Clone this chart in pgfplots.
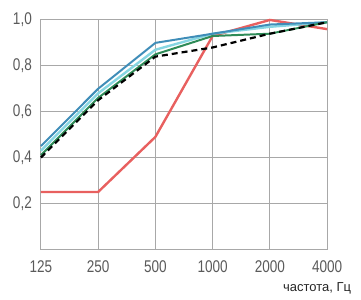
\documentclass[border=0pt]{standalone}
\usepackage{pgfplots}
\pgfplotsset{compat=1.18}
\usepackage{fontspec}
\setmainfont{Liberation Sans}
\newfontfamily\narrowfont{Liberation Sans}[FakeStretch=0.8]
\definecolor{cred}{HTML}{E8605F}
\definecolor{cblue}{HTML}{3F8DB8}
\definecolor{ccyan}{HTML}{86D6E2}
\definecolor{cgreen}{HTML}{2E8B57}
\definecolor{cgrid}{HTML}{A8A8A8}
\definecolor{ctick}{HTML}{5A5A5A}
\begin{document}
\begin{tikzpicture}
\useasboundingbox (-20.5pt,-25pt) rectangle (160.5pt,125pt);
\begin{axis}[
  at={(0,0)}, anchor=south west,
  scale only axis, width=143.5pt, height=115pt,
  xmin=0, xmax=5, ymin=0, ymax=1,
  xtick={0,1,2,3,4,5},
  xticklabels={125,250,500,1000,2000,4000},
  ytick={0.2,0.4,0.6,0.8,1.0},
  yticklabel style={/pgf/number format/use comma, /pgf/number format/fixed, /pgf/number format/fixed zerofill, /pgf/number format/precision=1, xshift=-1pt},
  /pgf/number format/assume math mode=true,
  tick label style={font=\narrowfont\fontsize{8.5}{9}\selectfont, text=ctick},
  xticklabel style={yshift=-2pt},
  grid=major,
  major grid style={cgrid, line width=0.5pt},
  axis line style={cgrid, line width=0.5pt},
  major tick length=0pt,
  clip=false,
]
\addplot[cred, line width=1.2pt] coordinates {(0,0.25) (1,0.25) (2,0.49) (3,0.93) (4,1.0) (5,0.96)};
\addplot[ccyan, line width=1.2pt] coordinates {(0,0.43) (1,0.68) (2,0.87) (3,0.94) (4,0.97) (5,0.99)};
\addplot[cblue, line width=1.0pt] coordinates {(0,0.45) (1,0.70) (2,0.90) (3,0.94) (4,0.98) (5,0.99)};
\addplot[cgreen, line width=1.0pt] coordinates {(0,0.41) (1,0.66) (2,0.85) (3,0.93) (4,0.94) (5,0.99)};
\addplot[black, line width=1.1pt, dash pattern=on 3pt off 2pt] coordinates {(0,0.40) (1,0.65) (2,0.84) (3,0.88) (4,0.94) (5,0.99)};
\node[font=\fontsize{6.5}{7}\selectfont, text=black!85] at (rel axis cs:0,0) [xshift=138.5pt, yshift=-19.5pt] {частота, Гц};
\end{axis}
\end{tikzpicture}
\end{document}
